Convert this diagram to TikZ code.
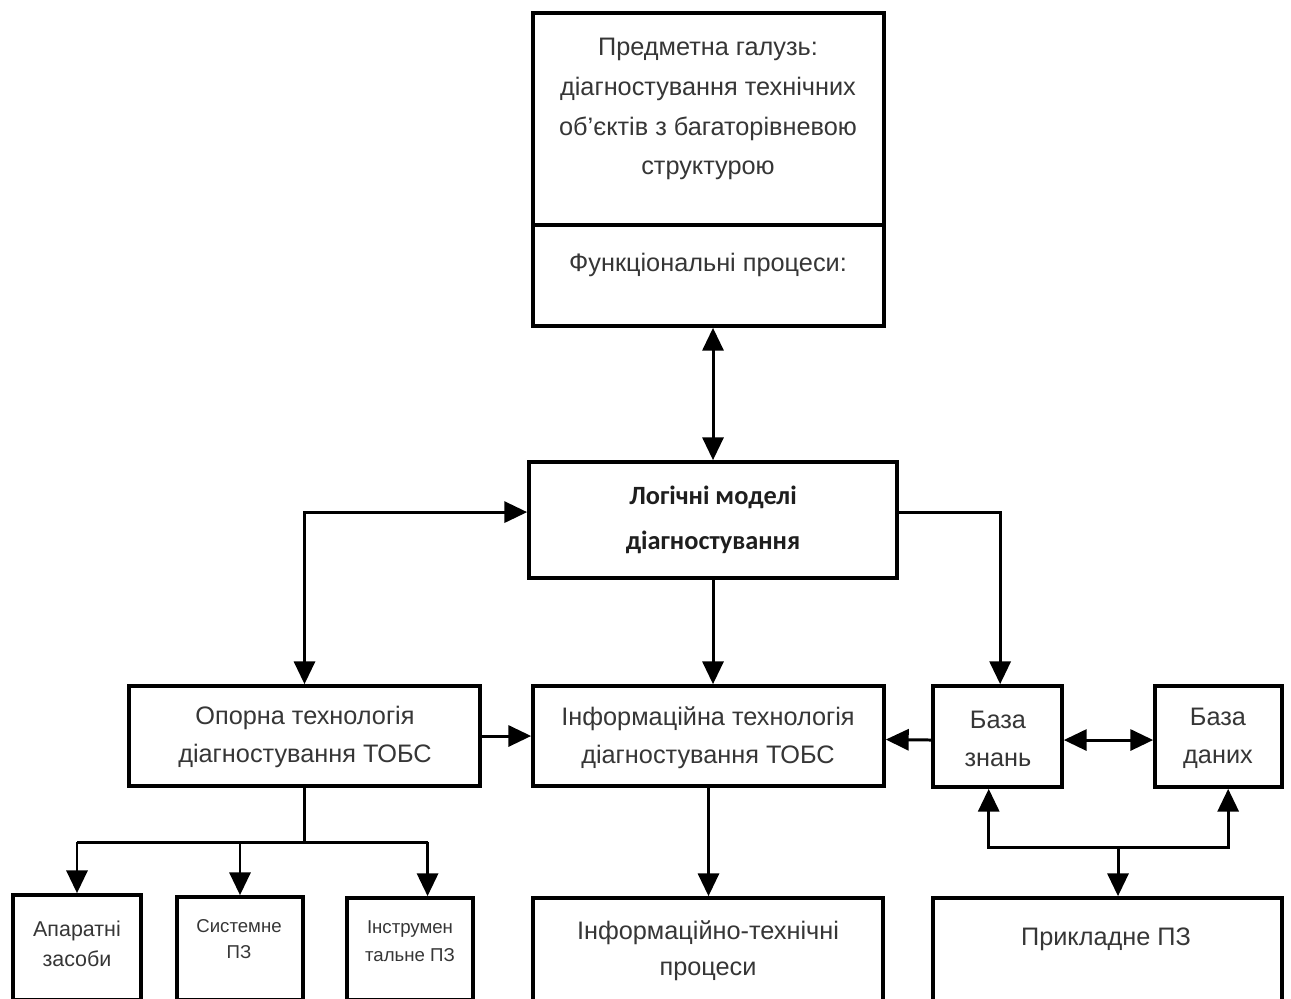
\documentclass[tikz,border=0pt]{standalone}
\usepackage{fontspec}
\setmainfont{Liberation Sans}
\newfontfamily\calib{Carlito}
\usetikzlibrary{arrows.meta,calc}

\definecolor{ink}{HTML}{363636}
\definecolor{inkdark}{HTML}{1E1E1E}

\tikzset{
  box/.style={draw=black, line width=2.1pt, fill=white, inner sep=0pt},
  txt/.style={align=center, text=ink, inner sep=0pt,
              font=\fontsize{14.4}{22.7}\selectfont},
  smalltxt/.style={align=center, text=ink, inner sep=0pt,
              font=\fontsize{12.2}{17}\selectfont},
  tinytxt/.style={align=center, text=ink, inner sep=0pt,
              font=\fontsize{10.6}{15.6}\selectfont},
  link/.style={line width=1.7pt, draw=black},
  arr/.style={link, -{Triangle[length=13pt, width=12pt]}},
  darr/.style={link, {Triangle[length=13pt, width=12pt]}-{Triangle[length=13pt, width=12pt]}},
}

% place a box by its corners (pixel units)
\newcommand{\pbox}[5]{%
  \node[box, minimum width={(#4-#2)*0.02cm}, minimum height={(#5-#3)*0.02cm}]
    (#1) at ({(#2+#4)/2},{(#3+#5)/2}) {};}

\begin{document}
\begin{tikzpicture}[x=0.02cm, y=-0.02cm]
  \useasboundingbox (0,0) rectangle (1291,998);
  \fill[white] (0,0) rectangle (1291,998);

  % upper block: subject area and functional processes
  \pbox{subj}{533}{13}{884}{225}
  \pbox{funcs}{533}{225}{884}{326}
  \node[txt] (subj-t) at (708,109) {Предметна галузь:\\діагностування технічних\\об'єктів з багаторівневою\\структурою};
  \node[txt] (funcs-t) at (708,265) {Функціональні процеси:};

  % logical models
  \pbox{logic}{529}{462}{897}{578}
  \node[align=center, text=inkdark, inner sep=0pt,
        font=\calib\bfseries\fontsize{15}{25.5}\selectfont]
    (logic-t) at (713,520) {Логічні моделі\\діагностування};

  % middle row
  \pbox{opor}{129}{686}{480}{786}
  \node[txt, font=\fontsize{14.4}{21.5}\selectfont] (opor-t) at (305,737) {Опорна технологія\\діагностування ТОБС};
  \pbox{info}{533}{686}{884}{786}
  \node[txt, font=\fontsize{14.4}{21.5}\selectfont] (info-t) at (708,738) {Інформаційна технологія\\діагностування ТОБС};
  \pbox{bz}{933}{686}{1062}{787}
  \node[txt, font=\fontsize{14.4}{21.5}\selectfont] (bz-t) at (998,739) {База\\знань};
  \pbox{bd}{1155}{686}{1282}{787}
  \node[txt, font=\fontsize{14.4}{21.5}\selectfont] (bd-t) at (1218,738) {База\\даних};

  % bottom row
  \pbox{aparat}{13}{895}{141}{1000}
  \node[smalltxt] (aparat-t) at (77,944) {Апаратні\\засоби};
  \pbox{sys}{177}{897}{303}{1000}
  \node[tinytxt, font=\fontsize{10.6}{14.7}\selectfont] (sys-t) at (239,939) {Системне\\ПЗ};
  \pbox{instr}{347}{898}{473}{1000}
  \node[tinytxt] (instr-t) at (410,941) {Інструмен\\тальне ПЗ};
  \pbox{proc}{533}{898}{883}{1010}
  \node[txt, font=\fontsize{14.4}{20.4}\selectfont] (proc-t) at (708,951) {Інформаційно-технічні\\процеси};
  \pbox{app}{933}{898}{1282}{1010}
  \node[txt] (app-t) at (1106,939) {Прикладне ПЗ};

  % connectors
  \draw[darr] (logic.north) -- (logic.north |- funcs.south);
  \draw[darr] (opor.north) |- ([yshift=4.5pt]logic.west);
  \draw[arr] ([yshift=4.5pt]logic.east) -| ([xshift=1.5pt]bz.north);
  \draw[arr] (logic.south) -- (logic.south |- info.north);
  \draw[arr] (opor.east) -- (info.west);
  \draw[arr] ([yshift=-2pt]bz.west) -- ([yshift=-2pt]info.east);
  \draw[darr] ([yshift=-2pt]bz.east) -- ([yshift=-2pt]bd.west);
  \draw[arr] (info.south) -- (info.south |- proc.north);

  % bus under the knowledge and data bases
  \coordinate (bus) at (1118,847);
  \draw[darr] ([xshift=-5pt]bz.south) -- ([xshift=-5pt]bz.south |- bus)
              -- ([xshift=5.5pt]bd.south |- bus) -- ([xshift=5.5pt]bd.south);
  \draw[arr] (bus) -- (bus |- app.north);

  % fan-out of the reference technology
  \coordinate (fan) at (307,842);
  \draw[link] (opor.south) -- (opor.south |- fan);
  \draw[link] (aparat.north |- fan) -- ([xshift=10pt]instr.north |- fan);
  \draw[arr] (aparat.north |- fan) -- (aparat.north);
  \draw[arr] (sys.north |- fan) -- (sys.north);
  \draw[arr] ([xshift=10pt]instr.north |- fan) -- ([xshift=10pt]instr.north);
\end{tikzpicture}
\end{document}
